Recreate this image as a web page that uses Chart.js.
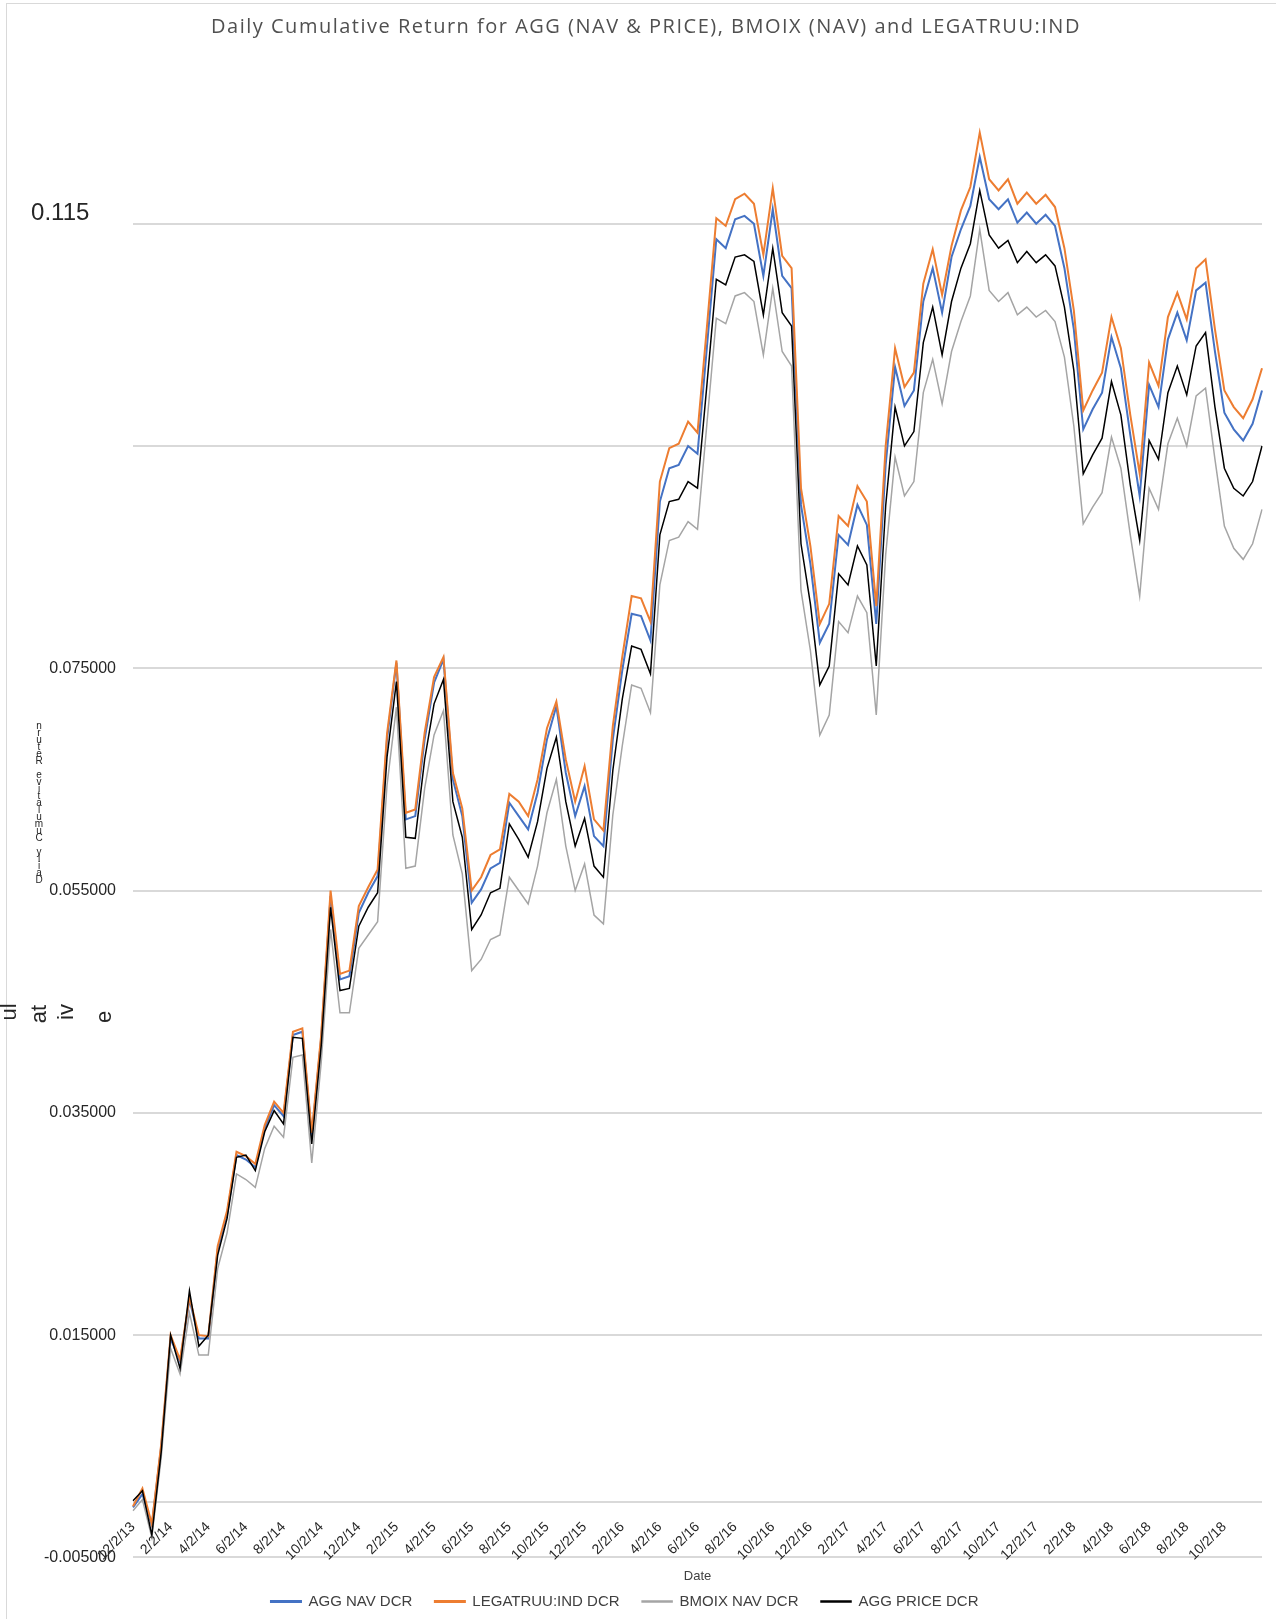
<!DOCTYPE html>
<html>
<head>
<meta charset="utf-8">
<title>Daily Cumulative Return</title>
<script src="https://cdn.jsdelivr.net/npm/chart.js@4"></script>
<style>
  html, body { margin: 0; padding: 0; background: #fff; }
  #wrap { position: relative; width: 1276px; height: 1619px; }
</style>
</head>
<body>
<div id="wrap"><canvas id="dcrChart"></canvas></div>
<script>
// 1. Data (semi-monthly readings of the daily series)
const dates = [
  "12/2/13", "12/16/13",
  "1/2/14", "1/16/14", "2/2/14", "2/16/14", "3/2/14", "3/16/14", "4/2/14", "4/16/14", "5/2/14", "5/16/14", "6/2/14", "6/16/14",
  "7/2/14", "7/16/14", "8/2/14", "8/16/14", "9/2/14", "9/16/14", "10/2/14", "10/16/14", "11/2/14", "11/16/14", "12/2/14", "12/16/14",
  "1/2/15", "1/16/15", "2/2/15", "2/16/15", "3/2/15", "3/16/15", "4/2/15", "4/16/15", "5/2/15", "5/16/15", "6/2/15", "6/16/15",
  "7/2/15", "7/16/15", "8/2/15", "8/16/15", "9/2/15", "9/16/15", "10/2/15", "10/16/15", "11/2/15", "11/16/15", "12/2/15", "12/16/15",
  "1/2/16", "1/16/16", "2/2/16", "2/16/16", "3/2/16", "3/16/16", "4/2/16", "4/16/16", "5/2/16", "5/16/16", "6/2/16", "6/16/16",
  "7/2/16", "7/16/16", "8/2/16", "8/16/16", "9/2/16", "9/16/16", "10/2/16", "10/16/16", "11/2/16", "11/16/16", "12/2/16", "12/16/16",
  "1/2/17", "1/16/17", "2/2/17", "2/16/17", "3/2/17", "3/16/17", "4/2/17", "4/16/17", "5/2/17", "5/16/17", "6/2/17", "6/16/17",
  "7/2/17", "7/16/17", "8/2/17", "8/16/17", "9/2/17", "9/16/17", "10/2/17", "10/16/17", "11/2/17", "11/16/17", "12/2/17", "12/16/17",
  "1/2/18", "1/16/18", "2/2/18", "2/16/18", "3/2/18", "3/16/18", "4/2/18", "4/16/18", "5/2/18", "5/16/18", "6/2/18", "6/16/18",
  "7/2/18", "7/16/18", "8/2/18", "8/16/18", "9/2/18", "9/16/18", "10/2/18", "10/16/18", "11/2/18", "11/16/18", "11/30/18"
];

const aggNav = [
  -0.0005, 0.0007, -0.0021, 0.0050, 0.0147, 0.0126, 0.0182, 0.0147, 0.0147, 0.0227,
  0.0259, 0.0312, 0.0308, 0.0301, 0.0336, 0.0357, 0.0347, 0.0420, 0.0423, 0.0329,
  0.0417, 0.0545, 0.0470, 0.0473, 0.0530, 0.0548, 0.0563, 0.0686, 0.0755, 0.0614,
  0.0617, 0.0686, 0.0737, 0.0758, 0.0650, 0.0617, 0.0539, 0.0551, 0.0570, 0.0575,
  0.0629, 0.0617, 0.0605, 0.0638, 0.0686, 0.0716, 0.0656, 0.0617, 0.0644, 0.0599,
  0.0590, 0.0686, 0.0748, 0.0799, 0.0797, 0.0775, 0.0900, 0.0930, 0.0933, 0.0950,
  0.0943, 0.1039, 0.1136, 0.1128, 0.1154, 0.1157, 0.1150, 0.1103, 0.1163, 0.1103,
  0.1092, 0.0897, 0.0844, 0.0773, 0.0790, 0.0870, 0.0861, 0.0897, 0.0879, 0.0790,
  0.0933, 0.1021, 0.0986, 0.1000, 0.1080, 0.1110, 0.1070, 0.1120, 0.1145, 0.1166,
  0.1210, 0.1172, 0.1163, 0.1172, 0.1151, 0.1160, 0.1150, 0.1158, 0.1148, 0.1110,
  0.1055, 0.0965, 0.0983, 0.0998, 0.1048, 0.1020, 0.0960, 0.0905, 0.1005, 0.0985,
  0.1046, 0.1070, 0.1045, 0.1090, 0.1097, 0.1035, 0.0980, 0.0965, 0.0955, 0.0970,
  0.1000
];

const legatruu = [
  -0.0004, 0.0012, -0.0020, 0.0052, 0.0150, 0.0128, 0.0184, 0.0150, 0.0149, 0.0230,
  0.0262, 0.0315, 0.0311, 0.0304, 0.0339, 0.0360, 0.0350, 0.0423, 0.0426, 0.0332,
  0.0420, 0.0550, 0.0475, 0.0478, 0.0536, 0.0553, 0.0569, 0.0691, 0.0757, 0.0620,
  0.0623, 0.0692, 0.0742, 0.0760, 0.0656, 0.0624, 0.0550, 0.0562, 0.0582, 0.0587,
  0.0637, 0.0630, 0.0617, 0.0650, 0.0696, 0.0720, 0.0668, 0.0630, 0.0662, 0.0614,
  0.0604, 0.0698, 0.0760, 0.0815, 0.0813, 0.0792, 0.0918, 0.0948, 0.0952, 0.0972,
  0.0962, 0.1057, 0.1155, 0.1148, 0.1172, 0.1177, 0.1168, 0.1122, 0.1182, 0.1121,
  0.1110, 0.0912, 0.0860, 0.0790, 0.0808, 0.0887, 0.0878, 0.0914, 0.0900, 0.0806,
  0.0950, 0.1038, 0.1003, 0.1016, 0.1096, 0.1127, 0.1086, 0.1130, 0.1162, 0.1183,
  0.1232, 0.1190, 0.1180, 0.1190, 0.1168, 0.1178, 0.1168, 0.1176, 0.1165, 0.1128,
  0.1072, 0.0982, 0.1000, 0.1016, 0.1066, 0.1038, 0.0978, 0.0925, 0.1025, 0.1004,
  0.1066, 0.1088, 0.1064, 0.1110, 0.1118, 0.1055, 0.1000, 0.0985, 0.0975, 0.0992,
  0.1020
];

const bmoixNav = [
  -0.0008, 0.0002, -0.0032, 0.0040, 0.0138, 0.0115, 0.0170, 0.0132, 0.0132, 0.0210,
  0.0242, 0.0295, 0.0290, 0.0283, 0.0318, 0.0338, 0.0328, 0.0400, 0.0402, 0.0305,
  0.0395, 0.0515, 0.0440, 0.0440, 0.0498, 0.0510, 0.0522, 0.0645, 0.0715, 0.0570,
  0.0572, 0.0642, 0.0690, 0.0712, 0.0600, 0.0565, 0.0478, 0.0488, 0.0506, 0.0510,
  0.0562, 0.0550, 0.0538, 0.0572, 0.0620, 0.0650, 0.0590, 0.0550, 0.0574, 0.0528,
  0.0520, 0.0618, 0.0680, 0.0735, 0.0732, 0.0710, 0.0825, 0.0865, 0.0868, 0.0882,
  0.0875, 0.0970, 0.1065, 0.1060, 0.1085, 0.1088, 0.1080, 0.1032, 0.1092, 0.1035,
  0.1022, 0.0820, 0.0766, 0.0690, 0.0708, 0.0792, 0.0782, 0.0815, 0.0800, 0.0708,
  0.0852, 0.0940, 0.0905, 0.0918, 0.0998, 0.1028, 0.0988, 0.1035, 0.1062, 0.1085,
  0.1145, 0.1090, 0.1080, 0.1088, 0.1068, 0.1075, 0.1066, 0.1072, 0.1062, 0.1030,
  0.0968, 0.0880, 0.0895, 0.0908, 0.0958, 0.0930, 0.0870, 0.0815, 0.0912, 0.0893,
  0.0952, 0.0975, 0.0950, 0.0995, 0.1002, 0.0938, 0.0878, 0.0858, 0.0848, 0.0862,
  0.0893
];

const aggPrice = [
  0.0001, 0.0010, -0.0030, 0.0045, 0.0150, 0.0120, 0.0190, 0.0140, 0.0150, 0.0222,
  0.0255, 0.0310, 0.0312, 0.0298, 0.0333, 0.0352, 0.0340, 0.0418, 0.0417, 0.0322,
  0.0410, 0.0535, 0.0460, 0.0462, 0.0518, 0.0535, 0.0548, 0.0670, 0.0738, 0.0598,
  0.0597, 0.0668, 0.0718, 0.0740, 0.0630, 0.0598, 0.0515, 0.0528, 0.0548, 0.0552,
  0.0610, 0.0596, 0.0580, 0.0612, 0.0660, 0.0688, 0.0630, 0.0590, 0.0615, 0.0572,
  0.0562, 0.0658, 0.0722, 0.0770, 0.0767, 0.0745, 0.0870, 0.0900, 0.0902, 0.0918,
  0.0912, 0.1005, 0.1100, 0.1095, 0.1120, 0.1122, 0.1116, 0.1068, 0.1128, 0.1070,
  0.1058, 0.0862, 0.0808, 0.0735, 0.0752, 0.0835, 0.0825, 0.0860, 0.0843, 0.0752,
  0.0896, 0.0985, 0.0950, 0.0963, 0.1043, 0.1075, 0.1032, 0.1080, 0.1110, 0.1132,
  0.1180, 0.1140, 0.1128, 0.1135, 0.1115, 0.1125, 0.1115, 0.1122, 0.1112, 0.1075,
  0.1018, 0.0925, 0.0942, 0.0957, 0.1008, 0.0978, 0.0915, 0.0865, 0.0955, 0.0938,
  0.0998, 0.1022, 0.0996, 0.1040, 0.1052, 0.0985, 0.0930, 0.0912, 0.0905, 0.0918,
  0.0950
];

const xTickLabels = [
  "12/2/13", "2/2/14", "4/2/14", "6/2/14", "8/2/14", "10/2/14", "12/2/14",
  "2/2/15", "4/2/15", "6/2/15", "8/2/15", "10/2/15", "12/2/15",
  "2/2/16", "4/2/16", "6/2/16", "8/2/16", "10/2/16", "12/2/16",
  "2/2/17", "4/2/17", "6/2/17", "8/2/17", "10/2/17", "12/2/17",
  "2/2/18", "4/2/18", "6/2/18", "8/2/18", "10/2/18"
];
const yTickValues = [-0.005, 0, 0.015, 0.035, 0.055, 0.075, 0.095, 0.115];
const yTickLabels = ["-0.005000", "", "0.015000", "0.035000", "0.055000", "0.075000", "", "0.115"];

const chartTitle = "Daily Cumulative Return for AGG (NAV & PRICE), BMOIX (NAV) and LEGATRUU:IND";

// 2. Extra Excel-looking bits: frame, wide title, mangled axis title
const extrasPlugin = {
  id: "extras",
  beforeDraw(chart) {
    const c = chart.ctx;
    c.save();
    c.fillStyle = "#ffffff";
    c.fillRect(0, 0, chart.width, chart.height);
    c.strokeStyle = "#d9d9d9";
    c.lineWidth = 1;
    c.strokeRect(6.5, 3.5, 1400, 1700);
    c.restore();
  },
  afterDraw(chart) {
    const c = chart.ctx;
    c.save();
    // title, letter-spaced like the original
    c.fillStyle = "#505050";
    c.font = "20px 'Open Sans', sans-serif";
    c.letterSpacing = "1.5px";
    c.textAlign = "center";
    c.textBaseline = "middle";
    c.fillText(chartTitle, 646, 27);
    c.letterSpacing = "0px";

    // stacked letters of the axis title (reads bottom to top)
    const stacked = "Daily Cumulative Return";
    c.fillStyle = "#262626";
    c.font = "10px 'Liberation Sans', Arial, sans-serif";
    for (let i = 0; i < stacked.length; i++) {
      c.fillText(stacked[i], 39, 880 - i * 7);
    }
    // rotated fragments
    const bits = [["ul", 10, 1012], ["at", 40, 1014], ["iv", 67, 1012], ["e", 105, 1017]];
    c.font = "22px 'Liberation Sans', Arial, sans-serif";
    bits.forEach(([t, x, y]) => {
      c.save();
      c.translate(x, y);
      c.rotate(-Math.PI / 2);
      c.fillText(t, 0, 0);
      c.restore();
    });
    c.restore();
  }
};

// 3. Chart
const ctx = document.getElementById("dcrChart").getContext("2d");

function series(label, values, color, width, order) {
  return {
    label: label,
    data: values,
    borderColor: color,
    backgroundColor: color,
    borderWidth: width,
    pointRadius: 0,
    tension: 0,
    fill: false,
    order: order
  };
}

new Chart(ctx, {
  type: "line",
  data: {
    labels: dates,
    datasets: [
      series("AGG NAV DCR", aggNav, "#4472c4", 2, 3),
      series("LEGATRUU:IND DCR", legatruu, "#ed7d31", 2, 2),
      series("BMOIX NAV DCR", bmoixNav, "#a5a5a5", 1.5, 1),
      series("AGG PRICE DCR", aggPrice, "#000000", 1.5, 0)
    ]
  },
  options: {
    responsive: true,
    maintainAspectRatio: false,
    animation: false,
    devicePixelRatio: 1,
    layout: { padding: { left: 0, right: 14, top: 57, bottom: 0 } },
    scales: {
      x: {
        type: "category",
        position: { y: 0 },
        offset: false,
        grid: { display: false, drawTicks: false },
        border: { display: false },
        afterFit: (scale) => {
          scale.paddingLeft = 0;
          scale.paddingRight = 0;
        },
        ticks: {
          autoSkip: false,
          minRotation: 45,
          maxRotation: 45,
          padding: 17,
          color: "#262626",
          font: { family: "'Liberation Sans', Arial, sans-serif", size: 14 },
          callback: function (value) {
            const lbl = this.getLabelForValue(value);
            return xTickLabels.includes(lbl) ? lbl : "";
          }
        }
      },
      y: {
        min: -0.005,
        max: 0.13,
        afterBuildTicks: (scale) => {
          scale.ticks = yTickValues.map((v) => ({ value: v }));
        },
        afterFit: (scale) => {
          scale.width = 133;
        },
        grid: { color: "#d9d9d9", lineWidth: 2, drawTicks: false },
        border: { display: false },
        ticks: {
          padding: 17,
          color: "#262626",
          font: (c) => (c.index === yTickValues.length - 1
            ? { family: "'Liberation Sans', Arial, sans-serif", size: 24, lineHeight: 0.85 }
            : { family: "'Liberation Sans', Arial, sans-serif", size: 16 }),
          callback: (value, index) => (index === yTickValues.length - 1
            ? [yTickLabels[index] + "    ", ""]
            : yTickLabels[index])
        }
      }
    },
    plugins: {
      title: { display: false },
      subtitle: {
        display: true,
        text: "Date",
        position: "bottom",
        fullSize: false,
        weight: 500,
        color: "#404040",
        font: { family: "'Liberation Sans', Arial, sans-serif", size: 13 },
        padding: { top: 11, bottom: 0 }
      },
      legend: {
        position: "bottom",
        labels: {
          boxWidth: 30,
          boxHeight: 1,
          padding: 10,
          color: "#404040",
          font: { family: "'Liberation Sans', Arial, sans-serif", size: 15 },
          sort: (a, b) => a.datasetIndex - b.datasetIndex,
          generateLabels: (chart) => {
            const items = Chart.defaults.plugins.legend.labels.generateLabels(chart);
            items.forEach((it) => { it.text = it.text + "   "; });
            return items;
          }
        }
      },
      tooltip: { enabled: false }
    }
  },
  plugins: [extrasPlugin]
});
</script>
</body>
</html>
